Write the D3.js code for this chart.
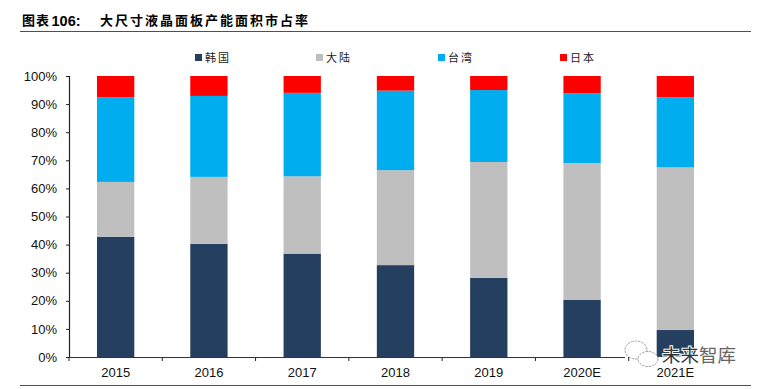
<!DOCTYPE html>
<html><head><meta charset="utf-8">
<script src="https://cdn.jsdelivr.net/npm/d3@7/dist/d3.min.js"></script>
<style>html,body{margin:0;padding:0;background:#fff}svg{display:block}</style></head>
<body><svg id="c" width="762" height="389"></svg>
<script>
const categories = ["2015","2016","2017","2018","2019","2020E","2021E"];
const seriesNames = ["韩国","大陆","台湾","日本"];
const korea = [42.8,40.3,36.8,32.7,28.2,20.4,9.6];
const mainland = [19.5,23.8,27.5,33.8,41.2,48.6,57.9];
const taiwan = [30.1,28.8,29.7,28.3,25.6,24.9,24.9];
const japan = [7.6,7.1,6,5.2,5,6.1,7.6];
const colors = ["#243F60","#BFBFBF","#00AEEF","#FF0000"];
const yTicks = [0,10,20,30,40,50,60,70,80,90,100];

const cjk = "'Noto Sans CJK SC','Noto Sans',sans-serif";
const latin = "'Liberation Sans',Arial,sans-serif";
const svg = d3.select("#c");
const x = d3.scaleBand().domain(categories).range([69,722]).paddingInner(0.6).paddingOuter(0.3);
const y = d3.scaleLinear().domain([0,100]).range([357,76]);

// header rules and title
svg.append("line").attr("x1",20).attr("x2",751).attr("y1",31.5).attr("y2",31.5).attr("stroke","#C8200F").attr("stroke-width",1);
svg.append("line").attr("x1",20).attr("x2",751).attr("y1",385.5).attr("y2",385.5).attr("stroke","#C8200F").attr("stroke-width",1);
svg.append("text").attr("x",22).attr("y",25).attr("font-family",cjk).attr("font-weight",700).attr("font-size",13).attr("letter-spacing",1).attr("fill","#000").text("图表");
svg.append("text").attr("x",51.5).attr("y",25.5).attr("font-family",latin).attr("font-weight",700).attr("font-size",14.5).attr("fill","#000").text("106:");
svg.append("text").attr("x",100).attr("y",25).attr("font-family",cjk).attr("font-weight",700).attr("font-size",13).attr("letter-spacing",2).attr("fill","#000").text("大尺寸液晶面板产能面积市占率");

// bars
const rows = categories.map((c,i)=>({cat:c,s0:korea[i],s1:mainland[i],s2:taiwan[i],s3:japan[i]}));
const stack = d3.stack().keys(["s0","s1","s2","s3"])(rows);
svg.append("g").selectAll("g").data(stack).join("g").attr("fill",(d,i)=>colors[i])
  .selectAll("rect").data(d=>d).join("rect")
  .attr("x",d=>x(d.data.cat)).attr("width",x.bandwidth())
  .attr("y",d=>y(d[1])).attr("height",d=>y(d[0])-y(d[1]));

// y axis
const ya = svg.append("g").attr("transform","translate(69,0)")
  .call(d3.axisLeft(y).tickValues(yTicks).tickFormat(d=>d+"%").tickSize(3).tickPadding(9));
ya.select(".domain").attr("stroke","#222").attr("stroke-width",1.2);
ya.selectAll("line").attr("stroke","#222");
ya.selectAll("text").attr("font-family",latin).attr("font-size",13).attr("fill","#111");

// watermark (under the axis labels)
const wm = svg.append("g");
const ic = wm.append("g").attr("fill","#fff").attr("stroke","#888").attr("stroke-width",0.8).attr("stroke-dasharray","2.5 1");
ic.append("ellipse").attr("cx",636).attr("cy",350).attr("rx",11).attr("ry",9);
ic.append("ellipse").attr("cx",648).attr("cy",359).attr("rx",10).attr("ry",7.5);
const wt = wm.append("text").attr("x",662).attr("y",362).attr("font-family",cjk).attr("font-size",18.5)
  .attr("stroke","#fff").attr("stroke-width",2).attr("paint-order","stroke");
wt.append("tspan").attr("fill","#333").text("未来");
wt.append("tspan").attr("fill","#666").text("智库");

// x axis
const xa = svg.append("g").attr("transform","translate(0,357)")
  .call(d3.axisBottom(x).tickSize(0).tickPadding(11));
xa.select(".domain").remove();
xa.selectAll("text").attr("font-family",latin).attr("font-size",13).attr("fill","#111");
const step = x.step();
svg.append("g").selectAll("line").data(d3.range(0,8)).join("line")
  .attr("x1",d=>69+d*step).attr("x2",d=>69+d*step).attr("y1",357).attr("y2",361).attr("stroke","#222");
svg.append("line").attr("x1",69).attr("x2",625).attr("y1",357.5).attr("y2",357.5).attr("stroke","#333").attr("stroke-width",1.2);

// legend
const lx = [195,316,438,560];
const lg = svg.append("g").selectAll("g").data(seriesNames).join("g").attr("transform",(d,i)=>`translate(${lx[i]},54)`);
lg.append("rect").attr("width",7).attr("height",7).attr("fill",(d,i)=>colors[i]);
lg.append("text").attr("x",10).attr("y",8).attr("font-family",cjk).attr("font-size",11).attr("letter-spacing",2).attr("fill","#222").text(d=>d);
</script></body></html>
